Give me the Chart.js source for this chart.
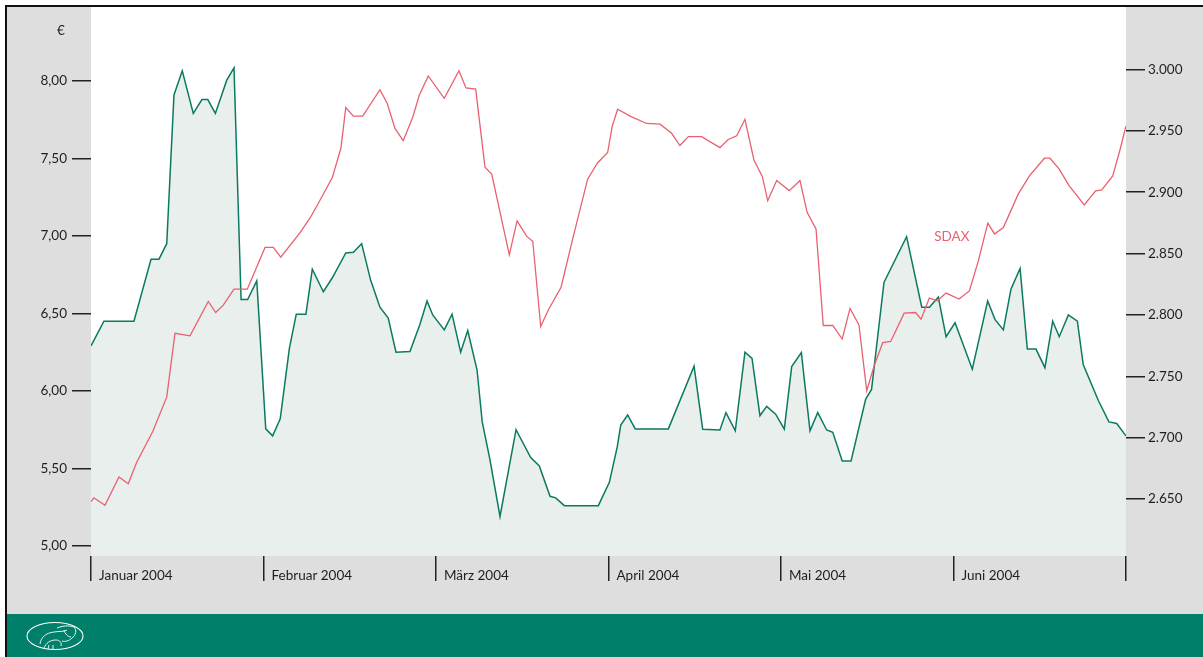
<!DOCTYPE html>
<html>
<head>
<meta charset="utf-8">
<script src="https://cdn.jsdelivr.net/npm/chart.js@4.4.1/dist/chart.umd.min.js"></script>
<style>
  html,body{margin:0;padding:0;background:#fff;}
  body{width:1203px;height:657px;position:relative;overflow:hidden;font-family:Lato,"Open Sans",sans-serif;}
  #frame{position:absolute;left:5px;top:5px;width:1198px;height:652px;border-left:2px solid #111;border-top:2px solid #111;background:#dedede;box-sizing:border-box;}
  #band{position:absolute;left:7px;top:614px;width:1196px;height:43px;background:#00806a;}
  #logo{position:absolute;left:24px;top:618px;}
  #c{position:absolute;left:0;top:0;}
</style>
</head>
<body>
<div id="frame"></div>
<div id="band"></div>
<svg id="logo" width="66" height="38" viewBox="0 0 66 38">
  <ellipse cx="31" cy="18" rx="28" ry="13.5" fill="none" stroke="#fff" stroke-width="1.1"/>
  <path d="M16 26 C17 19 22 15 30 14 C35 13 40 14 43 12 M33 10 C38 8 44 7 50 9 M50 9 C53 12 52 17 48 20 C45 23 41 24 38 23 M40 12 C41 16 44 19 47 19 M20 30 C22 25 26 22 32 22 C36 22 38 25 37 28 M24 31 L25 27 M29 31 L29 27" fill="none" stroke="#fff" stroke-width="0.9"/>
</svg>
<canvas id="c" width="1203" height="657"></canvas>
<script>
// ---- data (x = month position: 0 = start of January 2004, 6 = end of June 2004) ----
const monthLabels = ["Januar 2004", "Februar 2004", "März 2004", "April 2004", "Mai 2004", "Juni 2004"];
const monthTicks = [0, 1, 2, 3, 4, 5, 6];
const euroTicks = [5.0, 5.5, 6.0, 6.5, 7.0, 7.5, 8.0];
const sdaxTicks = [2650, 2700, 2750, 2800, 2850, 2900, 2950, 3000];

const stockX = [0, 0.075, 0.249, 0.348, 0.394, 0.439, 0.481, 0.529, 0.593, 0.643, 0.677, 0.721, 0.787, 0.829, 0.870, 0.908, 0.961,
  1.013, 1.053, 1.097, 1.150, 1.190, 1.246, 1.283, 1.347, 1.399, 1.477, 1.521, 1.569, 1.621, 1.675, 1.723, 1.768, 1.849, 1.907, 1.948, 1.981,
  2.048, 2.093, 2.143, 2.184, 2.238, 2.268, 2.313, 2.371, 2.464, 2.549, 2.599, 2.661, 2.694, 2.744, 2.941,
  3.005, 3.051, 3.071, 3.111, 3.155, 3.347, 3.496, 3.546, 3.646, 3.681, 3.735, 3.791, 3.832, 3.878, 3.917, 3.969,
  4.019, 4.062, 4.118, 4.168, 4.213, 4.265, 4.300, 4.355, 4.406, 4.491, 4.525, 4.597, 4.728, 4.816, 4.860, 4.912, 4.957,
  5.009, 5.109, 5.198, 5.241, 5.289, 5.333, 5.386, 5.428, 5.478, 5.530, 5.575, 5.613, 5.666, 5.718, 5.752, 5.839, 5.901, 5.946, 6.0];
const stockY = [6.29, 6.45, 6.45, 6.85, 6.85, 6.95, 7.91, 8.065, 7.79, 7.88, 7.88, 7.79, 8.005, 8.085, 6.59, 6.59, 6.71,
  5.755, 5.71, 5.82, 6.275, 6.495, 6.495, 6.785, 6.64, 6.73, 6.89, 6.895, 6.95, 6.715, 6.54, 6.47, 6.25, 6.254, 6.43, 6.58, 6.49,
  6.394, 6.495, 6.25, 6.39, 6.135, 5.80, 5.555, 5.19, 5.75, 5.57, 5.516, 5.32, 5.31, 5.26, 5.26,
  5.41, 5.64, 5.78, 5.845, 5.755, 5.755, 6.16, 5.753, 5.748, 5.86, 5.743, 6.25, 6.21, 5.84, 5.90, 5.85,
  5.753, 6.157, 6.247, 5.742, 5.86, 5.748, 5.733, 5.548, 5.548, 5.948, 6.01, 6.70, 6.995, 6.54, 6.54, 6.605, 6.35,
  6.44, 6.14, 6.58, 6.46, 6.394, 6.656, 6.79, 6.27, 6.27, 6.15, 6.45, 6.35, 6.49, 6.45, 6.17, 5.94, 5.80, 5.79, 5.71];

const sdaxX = [0, 0.017, 0.081, 0.162, 0.216, 0.265, 0.358, 0.439, 0.487, 0.574, 0.680, 0.723, 0.767, 0.829, 0.906,
  1.009, 1.057, 1.100, 1.212, 1.270, 1.318, 1.399, 1.449, 1.477, 1.521, 1.575, 1.675, 1.717, 1.762, 1.810, 1.865, 1.903, 1.955,
  2.048, 2.133, 2.174, 2.230, 2.284, 2.323, 2.425, 2.470, 2.526, 2.561, 2.607, 2.651, 2.725, 2.796, 2.879, 2.935, 2.995,
  3.022, 3.053, 3.125, 3.221, 3.299, 3.366, 3.414, 3.463, 3.540, 3.646, 3.694, 3.743, 3.791, 3.843, 3.892, 3.923, 3.975,
  4.048, 4.110, 4.152, 4.203, 4.245, 4.300, 4.355, 4.400, 4.452, 4.497, 4.541, 4.590, 4.636, 4.714, 4.780, 4.812, 4.860, 4.906, 4.957,
  5.032, 5.092, 5.144, 5.199, 5.238, 5.289, 5.376, 5.440, 5.527, 5.559, 5.612, 5.670, 5.758, 5.824, 5.859, 5.923, 5.965, 6.0];
const sdaxY = [2648, 2651, 2645, 2668, 2662.5, 2680, 2705, 2733, 2785, 2783, 2811, 2802, 2808, 2821, 2821,
  2855, 2855, 2847, 2867, 2879, 2891, 2912, 2936, 2969, 2962, 2962, 2983.5, 2972.5, 2952, 2942, 2961, 2979, 2994.7,
  2976.5, 2999, 2985, 2984, 2920.4, 2914.7, 2849, 2876.6, 2864, 2860, 2790.6, 2804, 2822.6, 2864, 2910.6, 2923.6, 2932.3,
  2954, 2967.6, 2962, 2956, 2955.4, 2948, 2938, 2945.3, 2945.3, 2936.3, 2943, 2946, 2959.4, 2926.3, 2912.7, 2893, 2909.5,
  2901.3, 2909.5, 2883.4, 2870, 2791.4, 2791.4, 2780.4, 2805.3, 2791.9, 2738.2, 2759, 2777.5, 2778.4, 2801.5, 2802, 2796.6, 2813.7, 2811.5, 2817.8,
  2812.9, 2819.6, 2844, 2874.8, 2866, 2871.2, 2898.6, 2913.3, 2927.7, 2927.7, 2919, 2905.4, 2889.7, 2901.1, 2901.9, 2913.3, 2934.4, 2954];

const sdaxLabel = {text: "SDAX", x: 4.99, y: 2864};
const currencyLabel = "€";

// ---- chart ----
const FONT = {family: "Lato, 'Open Sans', sans-serif", size: 13.5};
const TEXT = "#1e1e1e";
const toPts = (xs, ys) => xs.map((x, i) => ({x, y: ys[i]}));
const fmtEuro = v => v.toFixed(2).replace('.', ',');
const fmtSdax = v => Math.floor(v / 1000) + '.' + String(Math.round(v % 1000)).padStart(3, '0');
const noPad = s => { s.paddingTop = 0; s.paddingBottom = 0; };

const areaBg = {
  id: 'areaBg',
  beforeDraw(chart) {
    const {ctx, chartArea: a} = chart;
    ctx.save();
    ctx.fillStyle = '#ffffff';
    ctx.fillRect(a.left, a.top, a.right - a.left, a.bottom - a.top);
    ctx.restore();
  },
  afterDraw(chart) {
    const {ctx, scales} = chart;
    ctx.save();
    ctx.font = `${FONT.size}px ${FONT.family}`;
    ctx.fillStyle = TEXT;
    ctx.textAlign = 'center';
    ctx.textBaseline = 'middle';
    ctx.fillText(currencyLabel, 61, 31);
    ctx.fillStyle = '#e9606f';
    ctx.fillText(sdaxLabel.text, scales.x.getPixelForValue(sdaxLabel.x), scales.y2.getPixelForValue(sdaxLabel.y));
    ctx.restore();
  }
};

new Chart(document.getElementById('c'), {
  type: 'line',
  data: {
    datasets: [
      {label: 'SDAX', data: toPts(sdaxX, sdaxY), yAxisID: 'y2', borderColor: '#e9606f', borderWidth: 1.3,
       pointRadius: 0, fill: false, tension: 0},
      {label: 'Aktie', data: toPts(stockX, stockY), yAxisID: 'y', borderColor: '#0b7a62', borderWidth: 1.5,
       backgroundColor: '#e8efec', fill: 'start', pointRadius: 0, tension: 0}
    ]
  },
  options: {
    responsive: false,
    animation: false,
    devicePixelRatio: 1,
    layout: {padding: {top: 7, left: 0, right: 0, bottom: 0}},
    plugins: {legend: {display: false}, tooltip: {enabled: false}},
    scales: {
      x: {
        type: 'linear', min: 0, max: 6, position: 'bottom',
        afterBuildTicks: s => { s.ticks = monthTicks.map(v => ({value: v})); },
        afterFit: s => { s.height = 101; s.paddingLeft = 0; s.paddingRight = 0; },
        ticks: {callback: v => monthLabels[v] ?? '', align: 'start', labelOffset: 8, padding: -13,
                maxRotation: 0, autoSkip: false, font: FONT, color: TEXT},
        grid: {drawOnChartArea: false, drawTicks: true, tickLength: 25, color: '#222', lineWidth: 1.5},
        border: {display: false}
      },
      y: {
        type: 'linear', position: 'left', min: 4.935, max: 8.477,
        afterBuildTicks: s => { s.ticks = euroTicks.map(v => ({value: v})); },
        afterFit: s => { s.width = 91; noPad(s); },
        ticks: {callback: v => fmtEuro(v), padding: 5, font: FONT, color: TEXT},
        grid: {drawOnChartArea: false, drawTicks: true, tickLength: 19, color: '#222', lineWidth: 1.5},
        border: {display: false}
      },
      y2: {
        type: 'linear', position: 'right', min: 2603.6, max: 3050.9,
        afterBuildTicks: s => { s.ticks = sdaxTicks.map(v => ({value: v})); },
        afterFit: s => { s.width = 77; noPad(s); },
        ticks: {callback: v => fmtSdax(v), padding: 3, font: FONT, color: TEXT},
        grid: {drawOnChartArea: false, drawTicks: true, tickLength: 19, color: '#222', lineWidth: 1.5},
        border: {display: false}
      }
    }
  },
  plugins: [areaBg]
});
</script>
</body>
</html>
